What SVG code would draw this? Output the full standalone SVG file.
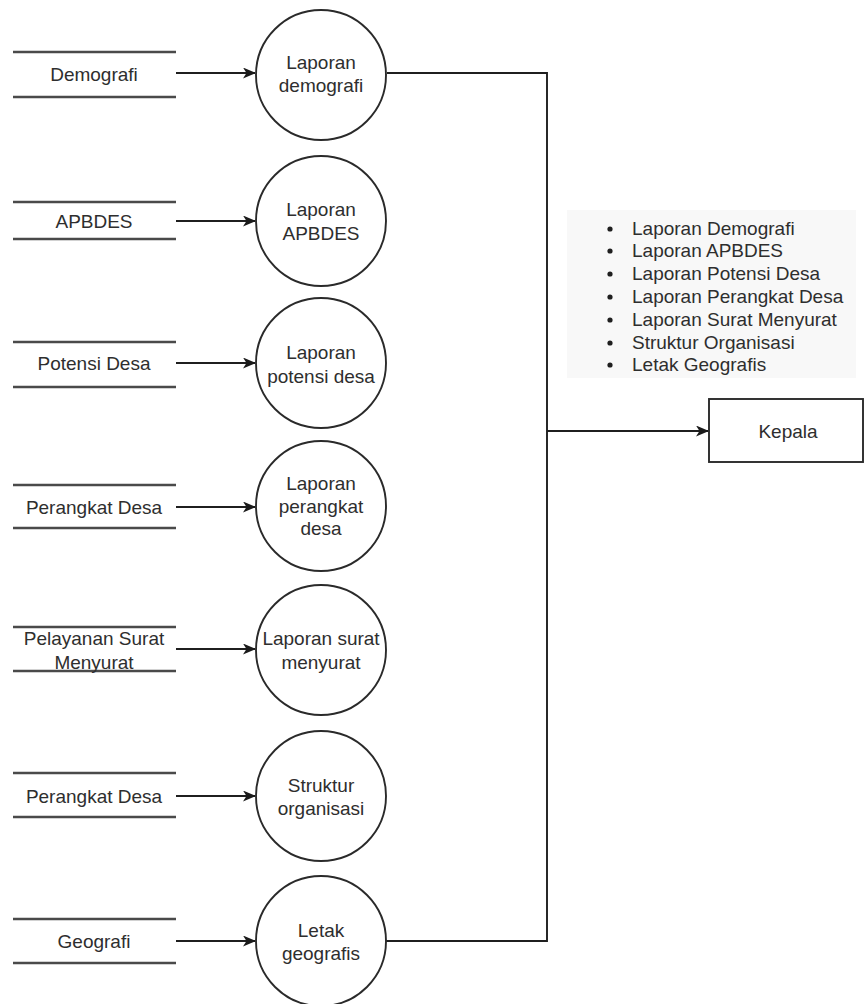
<svg xmlns="http://www.w3.org/2000/svg" width="864" height="1004" viewBox="0 0 864 1004">
<defs>
<marker id="arr" viewBox="0 0 13 11" refX="12" refY="5.5" markerWidth="13" markerHeight="11" markerUnits="userSpaceOnUse" orient="auto">
<path d="M0,0 L13,5.5 L0,11 L3.5,5.5 Z" fill="#1a1a1a"/>
</marker>
<style>
text{font-family:"Liberation Sans",Arial,sans-serif;font-size:19px;fill:#2e2e2e;text-anchor:middle;dominant-baseline:central}
.ds{stroke:#4a4a4a;stroke-width:2.4;fill:none}
.proc{fill:#fff;stroke:#2a2a2a;stroke-width:1.9}
.flow{stroke:#1f1f1f;stroke-width:1.9;fill:none}
.list text{text-anchor:start}
.bul{fill:#1f1f1f}
</style>
</defs>
<rect width="864" height="1004" fill="#fff"/>

<g id="connectors">
<line class="flow" x1="176" y1="73" x2="255" y2="73" marker-end="url(#arr)"/>
<line class="flow" x1="176" y1="221" x2="255" y2="221" marker-end="url(#arr)"/>
<line class="flow" x1="176" y1="363" x2="255" y2="363" marker-end="url(#arr)"/>
<line class="flow" x1="176" y1="507" x2="255" y2="507" marker-end="url(#arr)"/>
<line class="flow" x1="176" y1="649" x2="255" y2="649" marker-end="url(#arr)"/>
<line class="flow" x1="176" y1="796" x2="255" y2="796" marker-end="url(#arr)"/>
<line class="flow" x1="176" y1="941" x2="255" y2="941" marker-end="url(#arr)"/>
<polyline class="flow" points="387,73 547,73 547,941 386,941"/>
<line class="flow" x1="547" y1="431" x2="708" y2="431" marker-end="url(#arr)"/>
</g>

<g id="ds-demografi"><line class="ds" x1="13" y1="52" x2="176" y2="52"/><line class="ds" x1="13" y1="97" x2="176" y2="97"/><text x="94" y="74">Demografi</text></g>
<g id="ds-apbdes"><line class="ds" x1="13" y1="202" x2="176" y2="202"/><line class="ds" x1="13" y1="239" x2="176" y2="239"/><text x="94" y="221">APBDES</text></g>
<g id="ds-potensi"><line class="ds" x1="13" y1="342" x2="176" y2="342"/><line class="ds" x1="13" y1="387" x2="176" y2="387"/><text x="94" y="363">Potensi Desa</text></g>
<g id="ds-perangkat1"><line class="ds" x1="13" y1="485" x2="176" y2="485"/><line class="ds" x1="13" y1="528" x2="176" y2="528"/><text x="94" y="507">Perangkat Desa</text></g>
<g id="ds-pelayanan"><line class="ds" x1="13" y1="627" x2="176" y2="627"/><line class="ds" x1="13" y1="671" x2="176" y2="671"/><text x="94" y="638">Pelayanan Surat</text><text x="94" y="662">Menyurat</text></g>
<g id="ds-perangkat2"><line class="ds" x1="13" y1="773" x2="176" y2="773"/><line class="ds" x1="13" y1="817" x2="176" y2="817"/><text x="94" y="796">Perangkat Desa</text></g>
<g id="ds-geografi"><line class="ds" x1="13" y1="919" x2="176" y2="919"/><line class="ds" x1="13" y1="963" x2="176" y2="963"/><text x="94" y="941">Geografi</text></g>

<g id="p-demografi"><circle class="proc" cx="321" cy="75" r="65"/><text x="321" y="62">Laporan</text><text x="321" y="85">demografi</text></g>
<g id="p-apbdes"><circle class="proc" cx="321" cy="221" r="65"/><text x="321" y="209">Laporan</text><text x="321" y="233">APBDES</text></g>
<g id="p-potensi"><circle class="proc" cx="321" cy="363" r="65"/><text x="321" y="352">Laporan</text><text x="321" y="376">potensi desa</text></g>
<g id="p-perangkat"><circle class="proc" cx="321" cy="506" r="65"/><text x="321" y="483">Laporan</text><text x="321" y="506">perangkat</text><text x="321" y="528">desa</text></g>
<g id="p-surat"><circle class="proc" cx="321" cy="650" r="65"/><text x="321" y="638">Laporan surat</text><text x="321" y="662">menyurat</text></g>
<g id="p-struktur"><circle class="proc" cx="321" cy="796" r="65"/><text x="321" y="785">Struktur</text><text x="321" y="808">organisasi</text></g>
<g id="p-letak"><circle class="proc" cx="321" cy="941" r="65"/><text x="321" y="930">Letak</text><text x="321" y="953">geografis</text></g>

<g id="kepala"><rect x="709" y="399" width="154" height="63" fill="#fff" stroke="#2a2a2a" stroke-width="1.9"/><text x="788" y="431">Kepala</text></g>

<g id="list" class="list">
<rect x="567" y="210" width="289" height="168" fill="#f8f8f8"/>
<circle class="bul" cx="610" cy="229" r="2.6"/><text x="632" y="228">Laporan Demografi</text>
<circle class="bul" cx="610" cy="251" r="2.6"/><text x="632" y="250">Laporan APBDES</text>
<circle class="bul" cx="610" cy="274" r="2.6"/><text x="632" y="273">Laporan Potensi Desa</text>
<circle class="bul" cx="610" cy="297" r="2.6"/><text x="632" y="296">Laporan Perangkat Desa</text>
<circle class="bul" cx="610" cy="320" r="2.6"/><text x="632" y="319">Laporan Surat Menyurat</text>
<circle class="bul" cx="610" cy="343" r="2.6"/><text x="632" y="342">Struktur Organisasi</text>
<circle class="bul" cx="610" cy="365" r="2.6"/><text x="632" y="364">Letak Geografis</text>
</g>
</svg>
